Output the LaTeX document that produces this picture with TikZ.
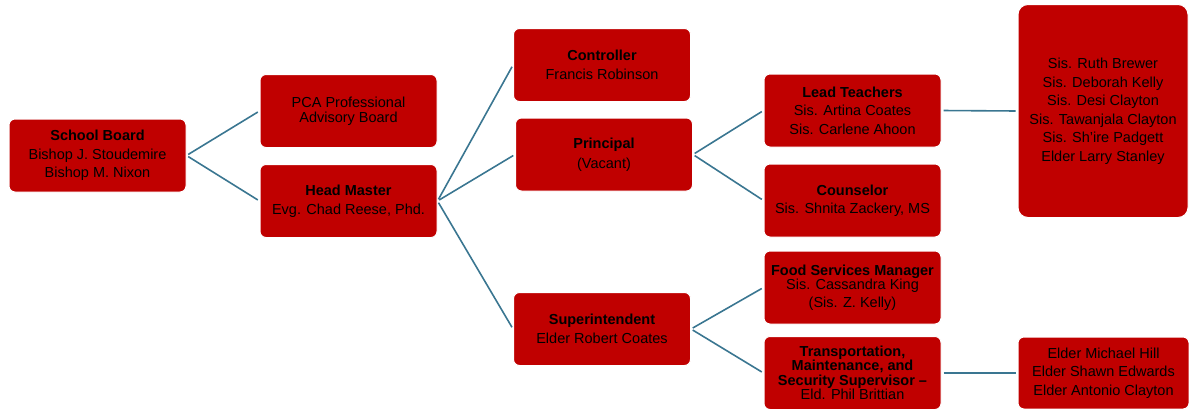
\documentclass[tikz,border=0pt]{standalone}
\usepackage{fontspec}
\setmainfont{Liberation Sans}
\usepackage{tikz}
\usetikzlibrary{positioning}

\definecolor{boxred}{RGB}{192,0,0}
\definecolor{linkblue}{RGB}{58,118,145}

\begin{document}
\begin{tikzpicture}[
        x=1pt, y=-1pt,
        node distance=16pt,
        block/.style={rectangle, draw=white, line width=1pt, fill=boxred, rounded corners=6pt, minimum width=177pt, minimum height=73pt, inner sep=2pt, align=center, font=\fontsize{14.5}{18.5}\selectfont},
        tall/.style={block, minimum width=170pt, minimum height=213pt, rounded corners=10pt},
        link/.style={draw=linkblue, line width=1.6pt, shorten <=2pt, shorten >=2pt}
    ]
    \useasboundingbox (0,0) rectangle (1189,408);
    % first level
    \node[block] (board) at (97.5,155.5) {\textbf{School Board}\\Bishop J. Stoudemire\\Bishop M. Nixon};
    
    % second level
    \node[block, font=\fontsize{14.5}{15}\selectfont] (pca) at (348.5,111) {PCA Professional\\Advisory Board};
    \node[block, below=16pt of pca] (head) {\textbf{Head Master}\\Evg. Chad Reese, Phd.};
    
    % third level
    \node[block] (controller) at (602,65) {\textbf{Controller}\\Francis Robinson};
    \node[block, font=\fontsize{14.5}{20}\selectfont] (principal) at (604,154.5) {\textbf{Principal}\\(Vacant)};
    \node[block] (super) at (602,329) {\textbf{Superintendent}\\Elder Robert Coates};
    
    % fourth level
    \node[block] (lead) at (852.5,110.5) {\textbf{Lead Teachers}\\Sis. Artina Coates\\Sis. Carlene Ahoon};
    \node[block, below=16pt of lead] (counsel) {\textbf{Counselor}\\Sis. Shnita Zackery, MS};
    \node[block, font=\fontsize{14.5}{14}\selectfont] (food) at (852.5,287.5) {\textbf{Food Services Manager}\\Sis. Cassandra King\\[4pt](Sis. Z. Kelly)};
    \node[block, font=\fontsize{14.5}{14.5}\selectfont] (transport) at (852.5,373) {\textbf{Transportation,}\\\textbf{Maintenance, and}\\\textbf{Security Supervisor –}\\Eld. Phil Brittian};
    
    % last level
    \node[tall] (teachers) at (1103,111) {Sis. Ruth Brewer\\Sis. Deborah Kelly\\Sis. Desi Clayton\\Sis. Tawanjala Clayton\\Sis. Sh’ire Padgett\\Elder Larry Stanley};
    \node[block, minimum width=171pt, minimum height=72pt] (crew) at (1103.5,373) {Elder Michael Hill\\Elder Shawn Edwards\\Elder Antonio Clayton};
    
    % links
    \draw[link] (board.east) -- (pca.west);
    \draw[link] (board.east) -- (head.west);
    \draw[link] (head.east) -- (controller.west);
    \draw[link] (head.east) -- (principal.west);
    \draw[link] (head.east) -- (super.west);
    \draw[link] (principal.east) -- (lead.west);
    \draw[link] (principal.east) -- (counsel.west);
    \draw[link] (super.east) -- (food.west);
    \draw[link] (super.east) -- (transport.west);
    \draw[link] (lead.east) -- (teachers.west);
    \draw[link] (transport.east) -- (crew.west);
\end{tikzpicture}
\end{document}
